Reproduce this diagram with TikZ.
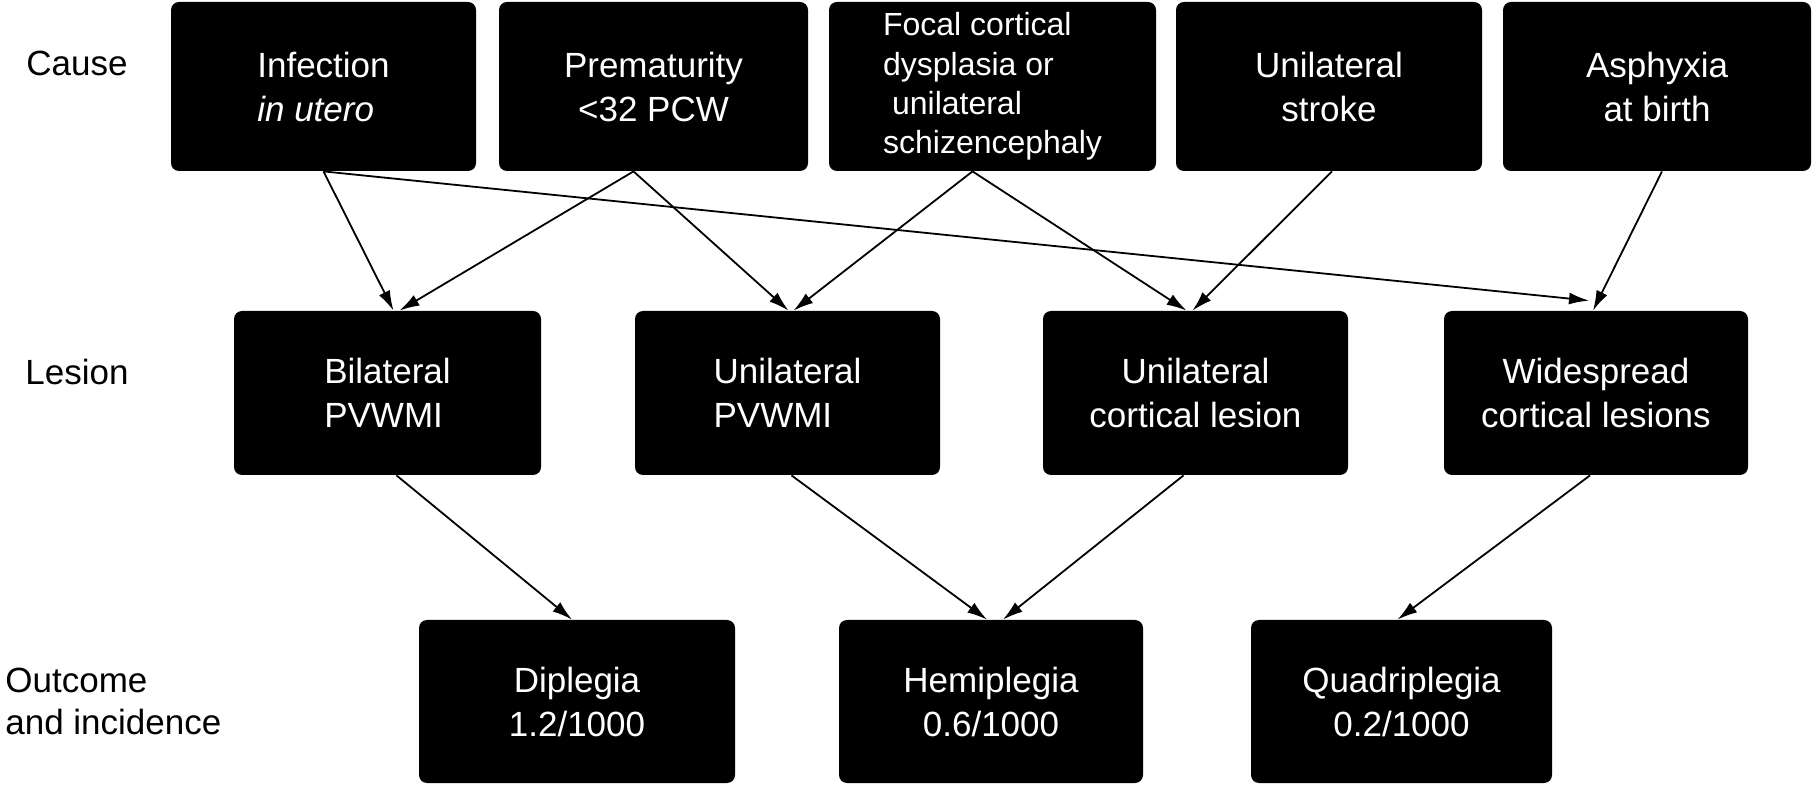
\documentclass[tikz,border=0pt]{standalone}
\usepackage{fontspec}
\setmainfont{Liberation Sans}
\usetikzlibrary{arrows.meta,calc}

\tikzset{
  causebox/.style={rectangle, rounded corners=4pt, fill=black, text=white, align=center,
    inner sep=0pt, minimum height=84.5pt, font=\fontsize{17.5}{22}\selectfont},
  lesionbox/.style={causebox, minimum height=82pt},
  outcomebox/.style={causebox, minimum height=81.5pt},
  rowlabel/.style={anchor=west, align=left, inner sep=0pt, font=\fontsize{17.5}{21}\selectfont},
  link/.style={-{Latex[length=10pt,width=6pt]}, line width=0.9pt}
}

\begin{document}
\begin{tikzpicture}[x=0.5pt, y=-0.5pt]
  \useasboundingbox (0,0) rectangle (1816,785);
  % Row labels
  \node[rowlabel] (lcause) at (26,63) {Cause};
  \node[rowlabel] (llesion) at (25,372) {Lesion};
  \node[rowlabel] (loutcome) at (5,701) {Outcome\\and incidence};
  % Causes
  \node[causebox, minimum width=152.5pt, align=left] (infect) at (323.5,86.5) {Infection\\\textit{in utero}};
  \node[causebox, minimum width=154.5pt] (prem) at (653.5,86.5) {Prematurity\\<32 PCW};
  \node[causebox, minimum width=163.5pt, align=left, font=\fontsize{16}{19.7}\selectfont] (focal) at (992.5,86.5)
    {Focal cortical\\dysplasia or\\\hspace*{0.28em}unilateral\\schizencephaly};
  \node[causebox, minimum width=153pt] (stroke) at (1329,86.5) {Unilateral\\stroke};
  \node[causebox, minimum width=154pt] (asphyx) at (1657,86.5) {Asphyxia\\at birth};
  % Lesions
  \node[lesionbox, minimum width=153.5pt, align=left] (bipv) at (387.5,393) {Bilateral\\PVWMI};
  \node[lesionbox, minimum width=152.5pt, align=left] (unipv) at (787.5,393) {Unilateral\\PVWMI};
  \node[lesionbox, minimum width=152.5pt] (unicort) at (1195.5,393) {Unilateral\\cortical lesion};
  \node[lesionbox, minimum width=152pt] (wide) at (1596,393) {Widespread\\cortical lesions};
  % Outcomes
  \node[outcomebox, minimum width=158pt] (dipl) at (577,701.5) {Diplegia\\1.2/1000};
  \node[outcomebox, minimum width=152pt] (hemi) at (991,701.5) {Hemiplegia\\0.6/1000};
  \node[outcomebox, minimum width=150.5pt] (quad) at (1401.5,701.5) {Quadriplegia\\0.2/1000};
  % Cause -> lesion
  \draw[link] (infect.south) -- ($(bipv.north)+(6,0)$);
  \draw[link] (infect.south) -- ($(wide.north)+(-7,-10)$);
  \draw[link] ($(prem.south)+(-20,0)$) -- ($(bipv.north)+(12,0)$);
  \draw[link] ($(prem.south)+(-20,0)$) -- ($(unipv.north)+(1,0)$);
  \draw[link] ($(focal.south)+(-20,0)$) -- ($(unipv.north)+(6,0)$);
  \draw[link] ($(focal.south)+(-20,0)$) -- ($(unicort.north)+(-9,0)$);
  \draw[link] ($(stroke.south)+(3,0)$) -- ($(unicort.north)+(-3,0)$);
  \draw[link] ($(asphyx.south)+(5,0)$) -- ($(wide.north)+(-3,0)$);
  % Lesion -> outcome
  \draw[link] ($(bipv.south)+(9,0)$) -- ($(dipl.north)+(-5,0)$);
  \draw[link] ($(unipv.south)+(4,0)$) -- ($(hemi.north)+(-4,0)$);
  \draw[link] ($(unicort.south)+(-12,0)$) -- ($(hemi.north)+(12,0)$);
  \draw[link] ($(wide.south)+(-6,0)$) -- ($(quad.north)+(-4,0)$);
\end{tikzpicture}
\end{document}
